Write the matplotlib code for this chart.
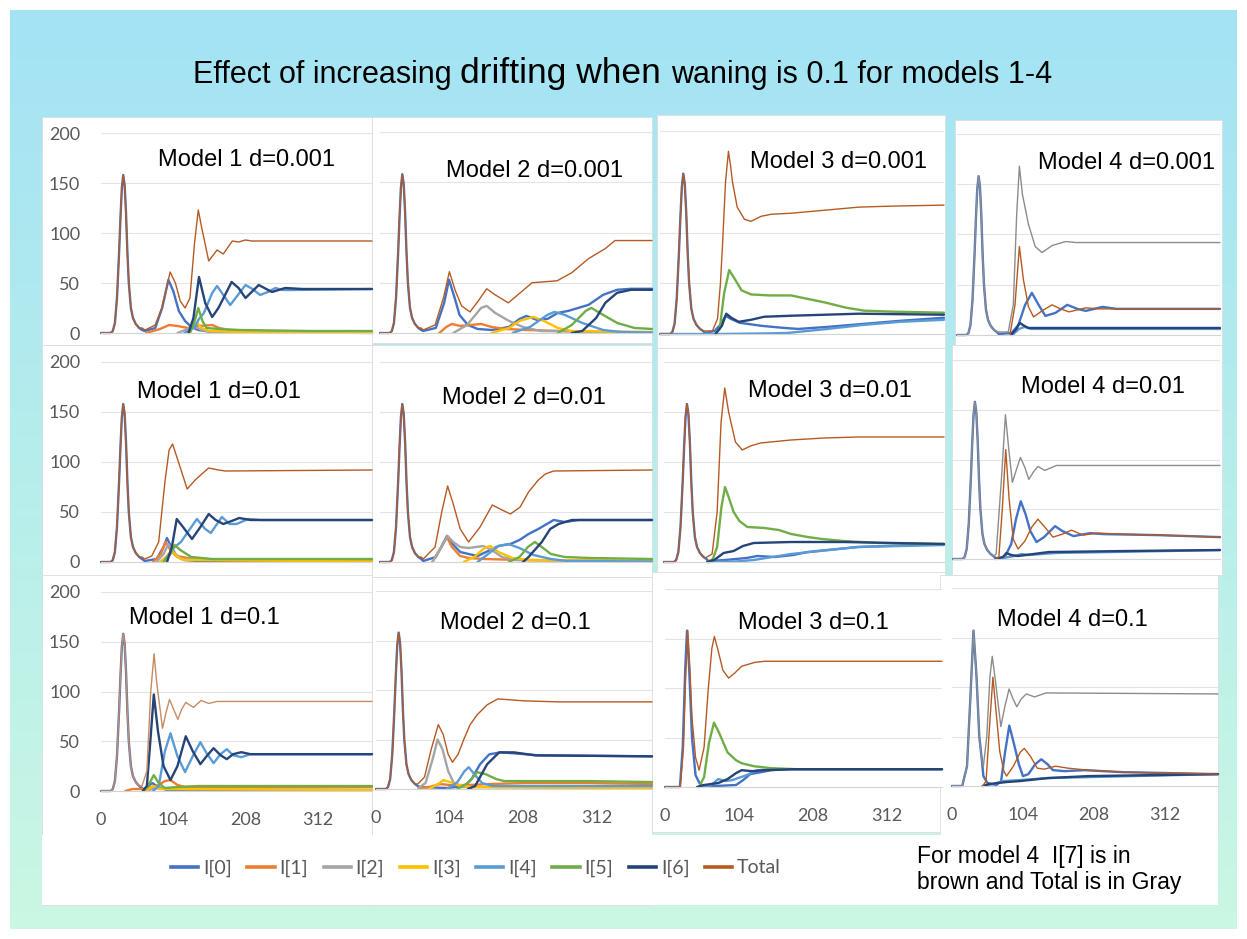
import numpy as np
import matplotlib.pyplot as plt
from matplotlib.lines import Line2D
from matplotlib.patches import Rectangle

W, H = 1247, 939

# ---------------- data (time in weeks, value) ----------------
SERIES = ["I[0]", "I[1]", "I[2]", "I[3]", "I[4]", "I[5]", "I[6]", "Total"]

# first epidemic wave, the same in every panel (I[0] and Total overlap there)
FIRST_T = [0, 14, 17, 20, 23, 26, 28, 30, 32, 34, 36, 38, 40, 43, 46, 50, 55]
FIRST_V = [0, 0, 2, 10, 35, 80, 115, 145, 158, 148, 120, 80, 50, 25, 15, 9, 5]

M1_D0001 = {
    "I[0]": ([59, 63, 78, 88, 97, 104, 112, 121, 130, 140, 160, 390], [3, 2, 5, 25, 53, 42, 22, 12, 6, 3, 1, 0.5]),
    "I[1]": ([65, 85, 98, 110, 125, 140, 160, 170, 185, 220, 300, 390], [0, 4, 8, 7, 5, 7, 8, 5, 3, 2, 1, 1]),
    "I[2]": ([110, 125, 135, 145, 160, 390], [0, 4, 6, 3, 1, 0]),
    "I[3]": ([125, 132, 138, 145, 155, 200, 390], [0, 5, 10, 5, 2, 1, 0.5]),
    "I[4]": ([120, 135, 140, 148, 160, 167, 176, 186, 197, 208, 218, 229, 240, 251, 262, 275, 390],
             [0, 6, 13, 20, 40, 47, 38, 28, 38, 48, 44, 38, 41, 45, 43, 43, 44]),
    "I[5]": ([128, 134, 140, 146, 152, 170, 200, 300, 390], [0, 10, 25, 12, 5, 4, 3, 2, 2]),
    "I[6]": ([126, 133, 141, 150, 160, 169, 188, 198, 208, 227, 246, 265, 290, 390],
             [0, 15, 56, 30, 16, 25, 51, 45, 35, 48, 41, 45, 44, 44]),
    "Total": ([59, 63.5, 78, 87.5, 99.5, 107, 114, 121, 128, 134.6, 140, 145, 155, 167, 176, 189, 198, 208, 217, 390],
              [5, 3, 8, 25, 61, 50, 32, 25, 35, 90, 123, 105, 72, 83, 79, 92, 91, 93, 92, 92]),
}

M2_D0001 = {
    "I[0]": ([59, 62, 80, 92, 99, 107, 114, 126, 140, 160, 185, 200, 210, 225, 240, 255, 270, 299, 320, 340, 360, 390],
             [3, 2, 5, 30, 53, 35, 18, 8, 4, 3, 6, 14, 17, 13, 14, 20, 22, 28, 38, 43, 44, 44]),
    "I[1]": ([85, 95, 103, 115, 130, 145, 160, 180, 210, 260, 320, 390], [0, 6, 9, 7, 8, 9, 6, 4, 3, 2, 1, 0.5]),
    "I[2]": ([105, 125, 145, 153, 165, 185, 205, 230, 390], [0, 8, 25, 27, 20, 12, 6, 2, 0.5]),
    "I[3]": ([160, 185, 200, 220, 235, 255, 275, 390], [0, 5, 12, 16, 12, 5, 2, 1]),
    "I[4]": ([190, 215, 240, 250, 265, 290, 320, 345, 390], [0, 6, 18, 21, 18, 10, 3, 1, 0.5]),
    "I[5]": ([255, 275, 295, 303, 315, 340, 365, 390], [0, 8, 22, 25, 20, 10, 5, 4]),
    "I[6]": ([275, 290, 310, 323, 340, 360, 390], [0, 2, 15, 30, 40, 43, 43]),
    "Total": ([59, 62, 79, 91, 99.5, 108, 117, 129, 141, 153, 165, 184, 201, 218, 237, 254, 275, 299, 323, 337, 390],
              [5, 3, 8, 35, 61, 42, 27, 21, 32, 44, 38, 30, 40, 50, 51, 52, 60, 74, 84, 92, 92]),
}

M3_D0001 = {
    "I[0]": ([59, 62, 75, 84, 90, 97, 110, 140, 170, 190, 230, 280, 330, 390], [3, 1, 3, 10, 18, 15, 11, 8, 6, 5, 7, 10, 13, 16]),
    "I[4]": ([0, 80, 140, 175, 230, 280, 330, 390], [0, 0, 0.5, 1, 5, 9, 12, 14]),
    "I[5]": ([76, 82, 88, 95, 102, 112, 125, 150, 180, 200, 227, 255, 280, 320, 390],
             [0, 5, 40, 63, 55, 43, 39, 38, 38, 35, 31, 26, 23, 22, 21]),
    "I[6]": ([76, 85, 91, 98, 108, 125, 143, 180, 227, 273, 390], [0, 8, 20, 16, 12, 14, 17, 18, 19, 20, 19]),
    "Total": ([60, 72, 79, 83, 86, 90, 94, 97, 99.5, 106, 116, 125, 139, 153, 180, 227, 273, 319, 390],
              [3, 3, 15, 50, 90, 150, 180, 165, 150, 125, 113, 111, 116, 118, 119, 122, 125, 126, 127]),
}

M4_D0001 = {
    "I[0]": ([59, 62, 81, 91, 101, 111, 121, 131, 146, 163.5, 178.5, 191, 216, 236, 390],
             [3, 1, 2, 10, 30, 42, 30, 19, 22, 30, 26, 24, 28, 26, 26]),
    "I[4]": ([82, 92, 100, 110, 390], [0, 6, 8, 6, 6]),
    "I[6]": ([80, 88, 93, 100, 106, 390], [0, 6, 12, 9, 7, 7]),
    "I[7]": ([78.5, 86, 92.5, 98.5, 106, 113.5, 126, 141, 153.5, 166, 191, 211, 390],
             [0, 30, 88, 55, 28, 18, 24, 30, 26, 23, 27, 26, 26]),
    "Total": ([60, 76, 83.5, 88.5, 92.5, 97, 106, 116, 126, 141, 161, 176, 390],
              [3, 3, 30, 120, 168, 140, 110, 88, 82, 89, 93, 92, 92]),
}

M1_D001 = {
    "I[0]": ([59, 63, 80, 90, 95, 101, 110, 120, 140, 390], [3, 1, 3, 15, 24, 15, 5, 2, 1, 0.5]),
    "I[1]": ([75, 86, 93, 100, 108, 125, 145, 170, 390], [0, 8, 20, 12, 6, 4, 3, 2, 1]),
    "I[2]": ([80, 90, 97, 104, 115, 390], [0, 8, 18, 10, 3, 0.5]),
    "I[3]": ([85, 95, 102, 110, 120, 390], [0, 6, 12, 5, 2, 0.5]),
    "I[4]": ([90, 100, 106, 115, 125, 138, 150, 158, 174, 185, 195, 212, 230, 390],
             [0, 10, 15, 20, 30, 43, 33, 29, 45, 38, 38, 43, 42, 42]),
    "I[5]": ([90, 100, 106, 114, 130, 160, 390], [0, 8, 17, 12, 5, 3, 3]),
    "I[6]": ([95, 102, 109, 118, 131, 143, 155, 165, 176, 188, 199, 215, 390],
             [0, 15, 43, 35, 23, 35, 48, 42, 38, 41, 44, 42, 42]),
    "Total": ([59, 63, 73, 83, 92, 98, 103, 111.5, 124, 135.5, 145, 155, 169, 179, 390],
              [5, 3, 6, 20, 80, 112, 118, 100, 73, 82, 88, 94, 92, 91, 92]),
}

M2_D001 = {
    "I[0]": ([59, 62, 80, 90, 96, 104, 115, 127, 140, 158, 170, 187, 200, 213, 227, 249, 265, 285, 390],
             [3, 1, 5, 18, 26, 18, 10, 8, 6, 12, 16, 18, 22, 28, 33, 42, 40, 42, 42]),
    "I[1]": ([75, 88, 96, 103, 115, 127, 150, 200, 390], [0, 15, 25, 15, 6, 4, 3, 2, 1]),
    "I[2]": ([75, 88, 97, 105, 115, 127, 148, 160, 175, 195, 390], [0, 15, 26, 20, 15, 14, 16, 12, 5, 2, 0.5]),
    "I[3]": ([120, 135, 150, 158, 170, 190, 215, 390], [0, 5, 14, 16, 10, 4, 2, 1]),
    "I[4]": ([140, 155, 170, 184, 200, 220, 245, 268, 390], [0, 8, 16, 18, 14, 7, 3, 1, 0.5]),
    "I[5]": ([185, 200, 212, 222, 232, 245, 265, 300, 390], [0, 5, 15, 20, 15, 8, 5, 4, 3]),
    "I[6]": ([205, 213, 232, 244, 256, 275, 390], [0, 5, 20, 33, 38, 42, 42]),
    "Total": ([59, 62, 79, 88.5, 97, 105, 115, 127, 143.5, 161, 175, 187, 201, 213, 227, 237, 249, 390],
              [5, 3, 15, 50, 76, 58, 33, 20, 35, 57, 52, 48, 55, 70, 82, 88, 91, 92]),
}

M3_D001 = {
    "I[0]": ([59, 62, 85, 115, 130, 155, 180, 200, 270, 390], [3, 1, 2, 4, 6, 5, 7, 10, 15, 18]),
    "I[4]": ([60, 100, 125, 177, 230, 270, 390], [0, 0.5, 2, 8, 12, 15, 17]),
    "I[5]": ([62, 68, 74, 80, 85, 90, 97, 105, 116, 140, 160, 177, 200, 220, 250, 300, 390],
             [0, 3, 15, 55, 75, 65, 50, 41, 35, 34, 32, 28, 25, 23, 21, 19, 18]),
    "I[6]": ([60, 70, 83, 97, 110, 125, 177, 250, 390], [0, 2, 9, 11, 16, 19, 20, 20, 18]),
    "Total": ([57.5, 67, 74, 79.5, 84.6, 90, 99.5, 109, 120.5, 134.6, 176.6, 223, 270, 390],
              [4, 8, 50, 140, 174, 150, 120, 112, 116, 119, 122, 124, 125, 125]),
}

M4_D001 = {
    "I[0]": ([59, 62, 75, 85, 92, 99, 106, 113, 122, 133, 149, 160, 176, 200, 220, 300, 390],
             [3, 1, 1, 15, 40, 58, 45, 28, 17, 22, 33, 28, 23, 26, 25, 24, 22]),
    "I[4]": ([65, 90, 100, 110, 150, 390], [0, 3, 5, 4, 6, 9]),
    "I[6]": ([62, 73, 78, 85, 95, 140, 250, 390], [0, 2, 6, 4, 3, 7, 8, 9]),
    "I[7]": ([62, 67, 72, 77, 82, 88, 95, 105, 115, 124, 133, 146, 160, 173, 190, 210, 250, 300, 390],
             [0, 2, 50, 110, 60, 20, 10, 18, 32, 40, 33, 22, 25, 29, 24, 26, 25, 24, 22]),
    "Total": ([60, 63, 70.7, 76.6, 81.5, 86.8, 92.7, 98.5, 105, 110.7, 118, 124, 134, 151, 390],
              [3, 5, 80, 145, 110, 77, 90, 102, 92, 80, 88, 93, 89, 94, 94]),
}

M1_D01 = {
    "I[0]": ([59, 62, 68, 74, 82, 95, 390], [3, 1, 5, 8, 4, 1, 1]),
    "I[1]": ([35, 45, 60, 80, 92, 100, 110, 121, 160, 390], [0, 2, 2, 5, 10, 11, 6, 4, 4, 4]),
    "I[2]": ([65, 78, 90, 390], [0, 3, 2, 1]),
    "I[3]": ([65, 75, 85, 390], [0, 5, 2, 1]),
    "I[4]": ([75, 83, 92, 100, 110, 121, 132, 143, 152, 162, 172, 181, 190, 202, 215, 390],
             [0, 5, 40, 58, 35, 19, 35, 49, 38, 28, 37, 42, 36, 34, 37, 37]),
    "I[5]": ([62, 70, 76, 83, 92, 110, 140, 390], [0, 8, 16, 8, 3, 4, 5, 5]),
    "I[6]": ([60, 66, 71, 76, 82, 90, 100, 110, 122, 132, 143, 152, 162, 172, 181, 190, 202, 215, 390],
             [0, 5, 50, 97, 60, 25, 11, 25, 55, 40, 27, 35, 43, 36, 32, 37, 39, 37, 37]),
    "Total": ([59, 66, 71.6, 76.4, 80, 88.5, 94, 98.6, 104, 110.6, 116, 122, 133, 144, 155, 167, 390],
              [5, 20, 100, 138, 110, 63, 80, 92, 83, 72, 82, 89, 84, 91, 88, 90, 90]),
}

M2_D01 = {
    "I[0]": ([59, 62, 100, 125, 135, 147, 160, 176, 195, 230, 390], [3, 2, 1, 3, 10, 25, 35, 37, 36, 34, 33]),
    "I[1]": ([60, 75, 90, 105, 130, 160, 210, 300, 390], [1, 2, 5, 4, 4, 5, 6, 6, 5]),
    "I[2]": ([60, 70, 80, 87, 94, 102, 110, 120, 390], [1, 6, 30, 50, 40, 18, 6, 2, 1]),
    "I[3]": ([75, 90, 95, 105, 118, 135, 390], [0, 6, 9, 7, 4, 2, 1]),
    "I[4]": ([100, 115, 125, 131, 140, 150, 165, 390], [0, 7, 18, 22, 14, 6, 3, 3]),
    "I[5]": ([115, 130, 143, 155, 170, 181, 210, 300, 390], [0, 6, 17, 15, 10, 8, 8, 8, 7]),
    "I[6]": ([130, 140, 157, 174, 195, 225, 390], [0, 3, 25, 37, 37, 34, 33]),
    "Total": ([59, 68.5, 78, 88, 95, 102, 108, 116, 124, 133, 143, 157, 172, 210, 258, 390],
              [5, 12, 40, 65, 55, 35, 27, 35, 50, 65, 75, 85, 91, 89, 88, 88]),
}

# the last two panels have their own first wave (second wave starts earlier)
M3_D01 = {
    "I[0]": ([0, 21, 25, 28.5, 31, 34, 38, 43, 50, 70, 100, 110, 120, 135, 150, 175, 390],
             [0, 0, 40, 120, 158, 120, 50, 12, 2, 1, 2, 7, 13, 15, 17, 18, 18]),
    "I[4]": ([55, 65, 75, 85, 95, 115, 130, 160, 390], [0, 2, 8, 6, 7, 12, 17, 18, 18]),
    "I[5]": ([48, 55, 62, 69, 76, 88, 100, 108, 125, 150, 185, 390], [0, 10, 45, 65, 55, 35, 27, 24, 21, 19, 18, 18]),
    "I[6]": ([45, 55, 75, 88, 100, 108, 122, 140, 180, 390], [0, 2, 4, 8, 14, 17, 16, 17, 18, 18]),
    "Total": ([0, 21.5, 26, 29, 32, 35, 38, 43, 48, 55, 61, 66, 69.5, 74, 81.5, 89.6, 98, 108, 127, 141, 390],
              [0, 0, 40, 110, 158, 120, 70, 30, 17, 40, 100, 140, 152, 140, 118, 110, 115, 122, 126, 127, 127]),
}

M4_D01 = {
    "I[0]": ([0, 15, 22, 27, 31.5, 36, 40, 44, 46, 52, 65, 72, 78, 84, 90, 98, 104, 112, 122, 131, 140, 148, 165, 195, 250, 390],
             [0, 0, 20, 90, 157, 110, 50, 25, 10, 3, 1, 5, 35, 61, 45, 22, 10, 12, 22, 27, 22, 16, 15, 16, 14, 12]),
    "I[4]": ([45, 60, 75, 100, 140, 390], [0, 2, 5, 6, 8, 12]),
    "I[6]": ([45, 55, 80, 100, 140, 200, 390], [0, 2, 4, 5, 8, 10, 12]),
    "I[7]": ([45, 50, 55, 60, 64, 70, 76, 80, 90, 100, 106, 115, 125, 135, 152, 170, 200, 250, 390],
             [0, 5, 60, 110, 80, 35, 15, 10, 20, 34, 38, 30, 18, 17, 20, 18, 16, 14, 12]),
    "Total": ([0, 15, 22, 27, 31.5, 36, 40, 44, 46, 51, 55.6, 59, 63, 71.6, 77.4, 83.7, 89.5, 95, 101.6, 109, 121, 138, 390],
              [0, 0, 20, 90, 157, 110, 50, 25, 20, 50, 110, 131, 110, 60, 80, 98, 88, 80, 88, 93, 90, 94, 93]),
}

# (title, data, uses shared first wave, model 4 colouring)
PANELS = [
    ("Model 1 d=0.001", M1_D0001, True, False),
    ("Model 2 d=0.001", M2_D0001, True, False),
    ("Model 3 d=0.001", M3_D0001, True, False),
    ("Model 4 d=0.001", M4_D0001, True, True),
    ("Model 1 d=0.01", M1_D001, True, False),
    ("Model 2 d=0.01", M2_D001, True, False),
    ("Model 3 d=0.01", M3_D001, True, False),
    ("Model 4 d=0.01", M4_D001, True, True),
    ("Model 1 d=0.1", M1_D01, True, False),
    ("Model 2 d=0.1", M2_D01, True, False),
    ("Model 3 d=0.1", M3_D01, False, False),
    ("Model 4 d=0.1", M4_D01, False, True),
]

COLORS = {"I[0]": "#4472C4", "I[1]": "#ED7D31", "I[2]": "#A5A5A5", "I[3]": "#FFC000",
          "I[4]": "#5B9BD5", "I[5]": "#70AD47", "I[6]": "#264478", "I[7]": "#B55A22",
          "Total": "#B55A22"}

# ---------------- layout in pixels (from top-left) ----------------
# white box, plot area (left, right, y of 0, y of 200), title centre
LAYOUT = [
    ((42, 117, 372, 345), (101, 372, 333, 133), (246, 160)),
    ((372, 117, 652, 343), (380, 652, 333, 132), (535, 171)),
    ((657, 115, 945, 348), (660, 944, 334, 131), (839, 162)),
    ((955, 120, 1222, 345), (957, 1220, 335, 134), (1127, 163)),
    ((42, 345, 372, 577), (101, 372, 562, 362), (219, 392)),
    ((372, 345, 652, 577), (380, 652, 562, 362), (524, 398)),
    ((657, 348, 945, 577), (664, 944, 562, 362), (830, 391)),
    ((952, 345, 1222, 575), (953, 1220, 559, 360), (1103, 387)),
    ((42, 575, 372, 905), (101, 372, 791, 592), (204, 618)),
    ((372, 577, 652, 905), (376, 652, 789, 591), (515, 623)),
    ((652, 572, 945, 832), (665, 942, 787, 589), (813, 623)),
    ((940, 575, 1218, 835), (952, 1218, 786, 588), (1072, 620)),
]

fig = plt.figure(figsize=(W / 100, H / 100), dpi=100)
fig.patch.set_facecolor("white")

bg = fig.add_axes([0, 0, 1, 1])
bg.set_xlim(0, W)
bg.set_ylim(H, 0)
bg.axis("off")
top = np.array([0.64, 0.89, 0.96])
bottom = np.array([0.79, 0.97, 0.89])
f = np.linspace(0, 1, 256)[:, None, None]
grad = top * (1 - f) + bottom * f
bg.imshow(np.repeat(grad, 2, axis=1), extent=[10, W - 10, H - 10, 10], aspect="auto", zorder=0)

for i, ((title, data, shared, model4), (box, area, tpos)) in enumerate(zip(PANELS, LAYOUT)):
    bg.add_patch(Rectangle((box[0], box[1]), box[2] - box[0], box[3] - box[1],
                           facecolor="white", edgecolor="#DDDDDD", lw=0.6, zorder=1))
    l, r, y0, y200 = area
    ax = fig.add_axes([l / W, 1 - y0 / H, (r - l) / W, (y0 - y200) / H])
    ax.set_facecolor("white")
    ax.set_xlim(0, 390)
    ax.set_ylim(0, 200)
    for s in ["top", "left", "right"]:
        ax.spines[s].set_visible(False)
    ax.spines["bottom"].set_color("#D4D4D4")
    ax.set_yticks([0, 50, 100, 150, 200])
    ax.set_xticks([0, 104, 208, 312])
    ax.grid(axis="y", color="#E4E4E4", lw=0.8)
    ax.set_axisbelow(True)
    ax.tick_params(length=0, labelsize=13, labelcolor="#595959", pad=15)
    ax.tick_params(axis="y", labelleft=(i % 4 == 0))
    ax.tick_params(axis="x", labelbottom=(i // 4 == 2))
    for lab in ax.get_xticklabels() + ax.get_yticklabels():
        lab.set_family("Lato")

    order = [k for k in ["I[0]", "I[1]", "I[2]", "I[3]", "I[4]", "I[5]", "I[6]", "I[7]", "Total"] if k in data]
    for name in order:
        t, v = data[name]
        if shared and name in ("I[0]", "Total"):
            t = FIRST_T + list(t)
            v = FIRST_V + list(v)
        color = COLORS[name]
        thin = name in ("Total", "I[7]")
        if model4 and name == "Total":
            color = "#8C8C8C"
        if title == "Model 1 d=0.1" and name == "Total":
            color = "#C68C62"
        ax.plot(t, v, color=color, lw=1.0 if thin else 1.7, clip_on=False,
                solid_joinstyle="round", solid_capstyle="round")

    fig.text(tpos[0] / W, 1 - tpos[1] / H, title, ha="center", va="center",
             fontsize=17, family="Liberation Sans", color="black")

# legend band and note box
bg.add_patch(Rectangle((42, 835), 868, 70, facecolor="white", edgecolor="none", zorder=2))
bg.add_patch(Rectangle((910, 835), 308, 70, facecolor="white", edgecolor="none", zorder=2))
handles = [Line2D([], [], color=COLORS[s], lw=2.6) for s in SERIES]
fig.legend(handles, SERIES, loc="center", bbox_to_anchor=(476 / W, 1 - 868 / H), ncol=8,
           frameon=False, handlelength=1.4, handletextpad=0.25, columnspacing=0.8,
           labelcolor="#595959", prop={"family": "Lato", "size": 14})
fig.text(917 / W, 1 - 845 / H, "For model 4  I[7] is in\nbrown and Total is in Gray",
         ha="left", va="top", fontsize=16.5, family="Liberation Sans", linespacing=1.15)

# title with a larger middle part
t1 = fig.text(193 / W, 1 - 83 / H, "Effect of increasing ", fontsize=22,
              family="Liberation Sans", va="baseline")
t2 = bg.annotate("drifting when ", xy=(1, 0), xycoords=t1, va="bottom", ha="left",
                 fontsize=25.5, family="Liberation Sans")
bg.annotate("waning is 0.1 for models 1-4", xy=(1, 0), xycoords=t2, va="bottom", ha="left",
            fontsize=22, family="Liberation Sans")

fig.savefig("out.png", dpi=100)
